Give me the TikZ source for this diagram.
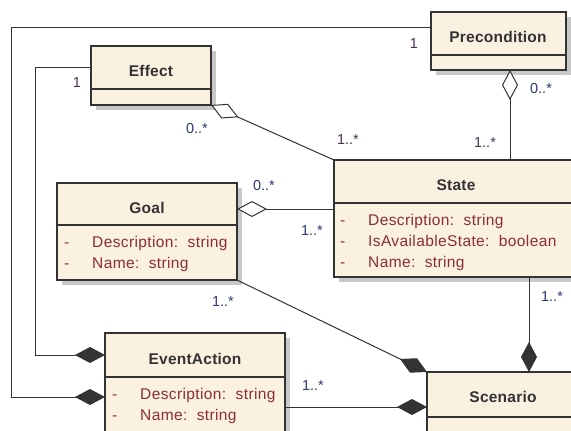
\documentclass[tikz,border=0pt]{standalone}
\usepackage{fontspec}
\setmainfont{Liberation Sans}
\newfontfamily\attrfont[LetterSpace=2.5]{Liberation Sans}
\newfontfamily\titlefont[LetterSpace=1.5]{Liberation Sans}
\usetikzlibrary{arrows.meta}
\pgfdeclarelayer{paper}
\pgfdeclarelayer{shade}
\pgfsetlayers{paper,shade,main}
\definecolor{cream}{HTML}{FBF1E1}
\definecolor{attr}{HTML}{8A2E32}
\definecolor{mulA}{HTML}{4A3355}
\definecolor{mulB}{HTML}{2C3C6E}
\definecolor{ink}{HTML}{333333}
\definecolor{shadowc}{HTML}{C8C8C8}
\tikzset{
  umlbox/.style={draw=ink, line width=1.2bp, fill=cream, inner sep=0pt, outer sep=0pt, anchor=north west},
  boxshadow/.style={fill=shadowc, draw=none},
  divider/.style={draw=ink, line width=1.2bp},
  title/.style={font=\fontsize{15.5bp}{18bp}\titlefont\bfseries, text=ink, inner sep=0pt, anchor=base},
  attrtext/.style={font=\fontsize{15.5bp}{18bp}\attrfont, text=attr, anchor=base west, inner sep=0pt},
  mult/.style={font=\fontsize{14.5bp}{17bp}\selectfont, text=mulA, inner sep=0pt},
  multb/.style={font=\fontsize{14.5bp}{17bp}\selectfont, text=mulB, inner sep=0pt},
  link/.style={draw=ink, line width=1bp},
  agg/.style={{Diamond[length=30bp, width=16bp, fill=white, line width=1bp]}-},
  comp/.style={-{Diamond[length=30bp, width=16bp, line width=1bp]}},
}
\newcommand{\boxshade}[1]{\fill[boxshadow] ([shift={(4.5,4.5)}]#1.north west) rectangle ([shift={(4.5,4.5)}]#1.south east);}
\begin{document}
\begin{tikzpicture}[x=1bp,y=-1bp]
\useasboundingbox (0,0) rectangle (571,430);
\begin{pgfonlayer}{paper}
\fill[white] (0,0) rectangle (571,430);
\end{pgfonlayer}

% boxes
\node[umlbox, minimum width=120bp, minimum height=59bp] (effect) at (91,46) {};
\node[umlbox, minimum width=135bp, minimum height=58bp] (pre) at (431,12) {};
\node[umlbox, minimum width=244bp, minimum height=117bp] (state) at (334,160) {};
\node[umlbox, minimum width=180bp, minimum height=97bp] (goal) at (57,183) {};
\node[umlbox, minimum width=180bp, minimum height=112bp] (ea) at (105,333) {};
\node[umlbox, minimum width=152bp, minimum height=73bp] (scen) at (427,372) {};

\begin{pgfonlayer}{shade}
\boxshade{effect}
\boxshade{pre}
\boxshade{state}
\boxshade{goal}
\boxshade{ea}
\boxshade{scen}
\end{pgfonlayer}

% dividers
\draw[divider] (effect.west |- 0,89) -- (effect.east |- 0,89);
\draw[divider] (pre.west |- 0,55) -- (pre.east |- 0,55);
\draw[divider] (state.west |- 0,203) -- (state.east |- 0,203);
\draw[divider] (goal.west |- 0,225) -- (goal.east |- 0,225);
\draw[divider] (ea.west |- 0,377) -- (ea.east |- 0,377);
\draw[divider] (scen.west |- 0,417) -- (scen.east |- 0,417);

% titles
\node[title] (teffect) at (151,76) {Effect};
\node[title] (tpre) at (498,42) {Precondition};
\node[title] (tstate) at (456,190) {State};
\node[title] (tgoal) at (147,213) {Goal};
\node[title] (tea) at (195,364) {EventAction};
\node[title] (tscen) at (503,402) {Scenario};

% attributes
\node[attrtext] (s1d) at (340,225) {-};
\node[attrtext] (s1) at (368,225) {Description:\ \ string};
\node[attrtext] (s2d) at (340,246) {-};
\node[attrtext] (s2) at (368,246) {IsAvailableState:\ \ boolean};
\node[attrtext] (s3d) at (340,267) {-};
\node[attrtext] (s3) at (368,267) {Name:\ \ string};

\node[attrtext] (g1d) at (64,247) {-};
\node[attrtext] (g1) at (92,247) {Description:\ \ string};
\node[attrtext] (g2d) at (64,268) {-};
\node[attrtext] (g2) at (92,268) {Name:\ \ string};

\node[attrtext] (e1d) at (112,399) {-};
\node[attrtext] (e1) at (140,399) {Description:\ \ string};
\node[attrtext] (e2d) at (112,420) {-};
\node[attrtext] (e2) at (140,420) {Name:\ \ string};

% connector bend points
\coordinate (c1a) at (11,27);
\coordinate (c1b) at (11,397);
\coordinate (c2a) at (35,67);
\coordinate (c2b) at (35,355);

% connectors
\draw[link, comp] (pre.west |- 0,27) -- (c1a) -- (c1b) -- (ea.west |- 0,397);
\draw[link, comp] (effect.west |- 0,67) -- (c2a) -- (c2b) -- (ea.west |- 0,355);
\draw[link, agg] (effect.south east) -- (state.north west);
\draw[link, agg] (pre.south -| 510,0) -- (state.north -| 510,0);
\draw[link, agg] (goal.east |- 0,209) -- (state.west |- 0,209);
\draw[link, comp] (goal.south east) -- (scen.north west);
\draw[link, comp] (state.south -| 529,0) -- (scen.north -| 529,0);
\draw[link, comp] (ea.east |- 0,407) -- (scen.west |- 0,407);

% multiplicities
\node[mult] (m1) at (77,83) {1};
\node[multb] (m2) at (197,129) {0..*};
\node[mult] (m3) at (348,140) {1..*};
\node[mult] (m4) at (414,44) {1};
\node[multb] (m5) at (541,89) {0..*};
\node[mult] (m6) at (485,143) {1..*};
\node[multb] (m7) at (264,185) {0..*};
\node[multb] (m8) at (312,231) {1..*};
\node[multb] (m9) at (223,302) {1..*};
\node[multb] (m10) at (552,297) {1..*};
\node[multb] (m11) at (313,386) {1..*};
\end{tikzpicture}
\end{document}
